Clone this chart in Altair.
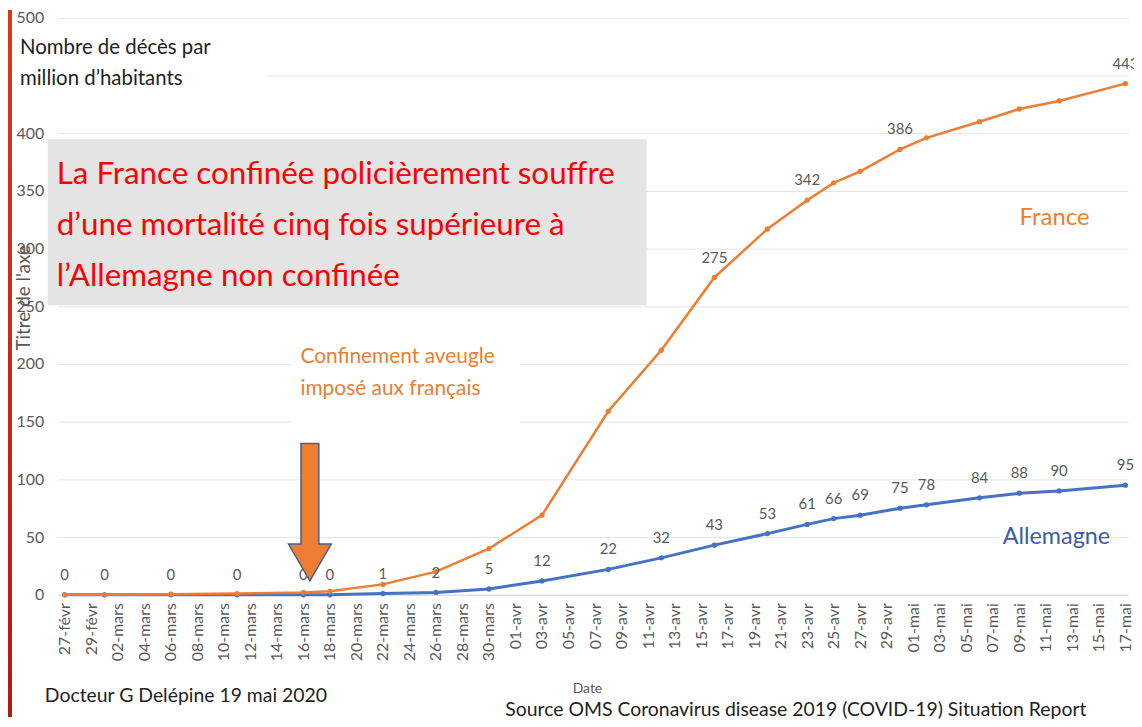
import json
import altair as alt
import pandas as pd

# ---------------- data ----------------
dates = ["2020-02-27", "2020-03-01", "2020-03-06", "2020-03-11", "2020-03-16", "2020-03-18",
         "2020-03-22", "2020-03-26", "2020-03-30", "2020-04-03", "2020-04-08", "2020-04-12",
         "2020-04-16", "2020-04-20", "2020-04-23", "2020-04-25", "2020-04-27", "2020-04-30",
         "2020-05-02", "2020-05-06", "2020-05-09", "2020-05-12", "2020-05-17"]
france = [0, 0, 0.5, 1, 2, 3, 9, 20, 40, 69, 159, 212, 275, 317, 342, 357, 367, 386,
          396, 410, 421, 428, 443]
allemagne = [0, 0, 0, 0, 0, 0, 1, 2, 5, 12, 22, 32, 43, 53, 61, 66, 69, 75, 78, 84, 88, 90, 95]
france_labeled = [275, 342, 386, 443]
tick_labels = ["27-févr", "29-févr", "02-mars", "04-mars", "06-mars", "08-mars", "10-mars",
               "12-mars", "14-mars", "16-mars", "18-mars", "20-mars", "22-mars", "24-mars",
               "26-mars", "28-mars", "30-mars", "01-avr", "03-avr", "05-avr", "07-avr",
               "09-avr", "11-avr", "13-avr", "15-avr", "17-avr", "19-avr", "21-avr", "23-avr",
               "25-avr", "27-avr", "29-avr", "01-mai", "03-mai", "05-mai", "07-mai", "09-mai",
               "11-mai", "13-mai", "15-mai", "17-mai"]
y_ticks = [0, 50, 100, 150, 200, 250, 300, 350, 400, 450, 500]

start = pd.Timestamp("2020-02-27")
days = [(pd.Timestamp(d) - start).days for d in dates]

df_fr = pd.DataFrame({"day": days, "value": france})
df_fr["lab"] = [str(int(v)) if v in france_labeled else "" for v in france]
df_de = pd.DataFrame({"day": days, "value": allemagne})
df_de["lab"] = [str(v) for v in allemagne]

# ---------------- style ----------------
FONT = "Lato, Open Sans, sans-serif"
GRAY = "#595959"
ORANGE = "#ed7d31"
BLUE = "#4472c4"

label_expr = json.dumps(tick_labels, ensure_ascii=False) + "[round(datum.value / 2)]"

X = alt.X("day:Q",
          scale=alt.Scale(domain=[-0.525, 80.2], nice=False, zero=False),
          axis=alt.Axis(values=list(range(0, 81, 2)), labelExpr=label_expr, labelAngle=-90,
                        grid=False, ticks=False, tickSize=0, domainColor="#d9d9d9",
                        labelColor=GRAY, labelFontSize=16, labelFont=FONT, labelPadding=8,
                        labelOverlap=False, labelFlush=False,
                        title="Date", titleX=532, titleY=94, titleFontSize=14,
                        titleFontWeight="normal", titleColor=GRAY, titleFont=FONT,
                        titleBaseline="middle", titleAlign="center"))
Y = alt.Y("value:Q",
          scale=alt.Scale(domain=[0, 500], nice=False),
          axis=alt.Axis(values=y_ticks, grid=True, gridColor="#e4e4e4", domain=False,
                        ticks=False, tickSize=0, labelColor=GRAY, labelFontSize=16,
                        labelFont=FONT, labelPadding=14,
                        labelExpr="datum.value == 450 ? '' : datum.label",
                        title="Titre de l'axe", titleX=-34, titleY=281, titleAngle=270,
                        titleFontSize=19, titleFontWeight="normal", titleColor=GRAY,
                        titleFont=FONT, titleBaseline="middle", titleAlign="center"))

one = pd.DataFrame({"a": [0]})


def box(x1, x2, y1, y2, **kw):
    return alt.Chart(one).mark_rect(**kw).encode(
        x=alt.value(x1), x2=alt.value(x2), y=alt.value(y1), y2=alt.value(y2))


def txt(text, x, y, **kw):
    return alt.Chart(one).mark_text(font=FONT, **kw).encode(
        x=alt.value(x), y=alt.value(y), text=alt.value(text))


red_stripe = box(-50, -46, -8, 703, fill=alt.LinearGradient(
    gradient="linear", x1=0, x2=0, y1=0, y2=1,
    stops=[alt.GradientStop(color="#d8381d", offset=0),
           alt.GradientStop(color="#b3180f", offset=1)]))

white_title = box(-43, 210, 12, 82, fill="white")
white_conf = box(235, 465, 319, 416, fill="white")
white_de = box(947, 1050, 510, 534, fill="white")
gray_box = box(-10, 592, 122, 289, fill="#e4e4e4")

de_line = alt.Chart(df_de).mark_line(
    color=BLUE, strokeWidth=3,
    point=alt.OverlayMarkDef(color=BLUE, size=28, filled=True)).encode(x=X, y=Y)
fr_line = alt.Chart(df_fr).mark_line(
    color=ORANGE, strokeWidth=2.5,
    point=alt.OverlayMarkDef(color=ORANGE, size=28, filled=True)).encode(x=X, y=Y)

de_labels = alt.Chart(df_de).mark_text(
    dy=-20, fontSize=15, color=GRAY, font=FONT).encode(x=X, y=Y, text="lab:N")
fr_labels = alt.Chart(df_fr).mark_text(
    dy=-20, fontSize=15, color=GRAY, font=FONT).encode(x=X, y=Y, text="lab:N")

title_txt = txt("Nombre de décès par\nmillion d’habitants", -38, 36, align="left",
                baseline="alphabetic", fontSize=20.5, color="#222222", lineBreak="\n",
                lineHeight=32)
red_txt = txt("La France confinée policièrement  souffre\nd’une mortalité cinq fois supérieure à\n"
              "l’Allemagne non confinée", -1, 167, align="left", baseline="alphabetic",
              fontSize=31.5, color="#ff0000", lineBreak="\n", lineHeight=51.5)
conf_txt = txt("Confinement aveugle\nimposé aux français", 244, 347, align="left",
               baseline="alphabetic", fontSize=21, color=ORANGE, lineBreak="\n", lineHeight=32)
france_txt = txt("France", 967, 208, align="left", baseline="alphabetic", fontSize=24,
                 color=ORANGE)
de_txt = txt("Allemagne", 950, 529, align="left", baseline="alphabetic", fontSize=23.5,
             color="#3b5ca6")
doc_txt = txt("Docteur G Delépine 19 mai 2020", -13, 688, align="left",
              baseline="alphabetic", fontSize=19.5, color="#222222")
src_txt = txt("Source OMS Coronavirus disease 2019 (COVID-19) Situation Report", 450, 702,
              align="left", baseline="alphabetic", fontSize=19.5, color="#222222")

arrow = alt.Chart(one).mark_point(
    shape="M -0.13 -1 L 0.13 -1 L 0.13 0.464 L 0.312 0.464 L 0 1 L -0.312 0.464 "
          "L -0.13 0.464 Z",
    filled=True, fill=ORANGE, stroke="#41618f", strokeWidth=1.5, opacity=1,
    size=19044).encode(x=alt.value(253.5), y=alt.value(497))

chart = alt.layer(
    red_stripe, white_title, white_conf, gray_box, white_de,
    de_line, fr_line, de_labels, fr_labels,
    title_txt, red_txt, conf_txt, france_txt, de_txt, doc_txt, src_txt, arrow,
).properties(
    width=1076, height=580,
    autosize=alt.AutoSizeParams(type="none"),
    padding={"left": 50, "top": 8, "right": 6, "bottom": 123},
    background="white",
).configure_view(stroke=None)

chart.save("out.html", embed_options={"renderer": "svg", "actions": False})
